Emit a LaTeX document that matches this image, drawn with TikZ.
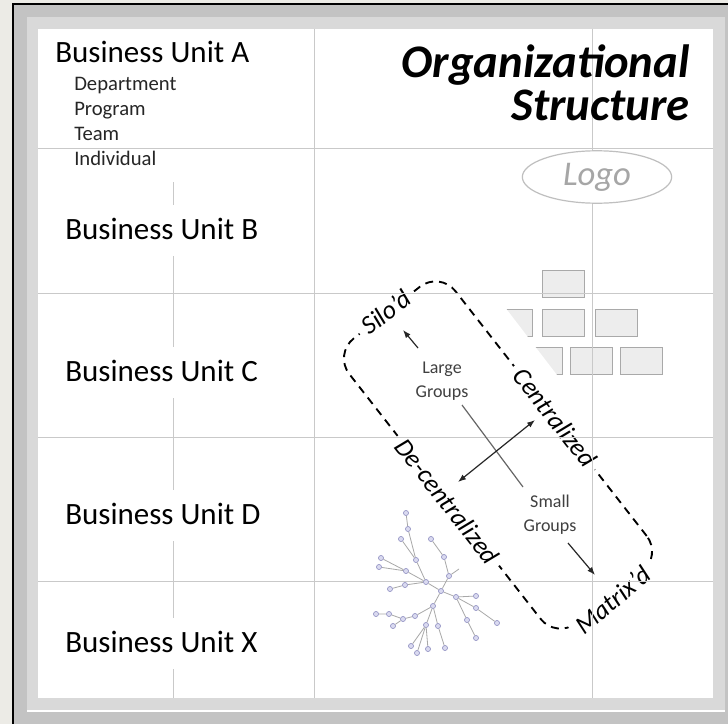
\documentclass[tikz,border=0pt]{standalone}
\usepackage{fontspec}
\setmainfont{Carlito}
\usepackage{tikz}
\usetikzlibrary{arrows.meta, positioning, calc, shapes.geometric}

\definecolor{pagebg}{HTML}{ECEBE6}
\definecolor{framegrey}{HTML}{C3C3C3}
\definecolor{panelgrey}{HTML}{D9D9D9}
\definecolor{gridgrey}{HTML}{C9C9C9}
\definecolor{blockfill}{HTML}{EDEDED}
\definecolor{blockline}{HTML}{A9A9A9}
\definecolor{logoline}{HTML}{BFBFBF}
\definecolor{logotext}{HTML}{A6A6A6}
\definecolor{twiggrey}{HTML}{A8A8A8}
\definecolor{leafline}{HTML}{9494C4}
\definecolor{leaffill}{HTML}{DADAF0}
\definecolor{groupstext}{HTML}{404040}

\begin{document}
\begin{tikzpicture}[
  x=0.75pt, y=-0.75pt,
  gridline/.style={draw=gridgrey, line width=0.75pt},
  unit/.style={anchor=base west, inner xsep=0pt, inner ysep=7.5pt, text height=18pt, text depth=5pt, fill=white, font=\fontsize{23.25}{28}\selectfont},
  item/.style={anchor=base west, inner sep=0pt, text=black!85, font=\fontsize{15.5}{18}\selectfont},
  heading/.style={anchor=base east, inner sep=0pt, font=\fontsize{35}{40}\selectfont\bfseries\itshape},
  block/.style={draw=blockline, fill=blockfill, line width=0.75pt},
  leaf/.style={circle, draw=leafline, fill=leaffill, line width=0.5pt, inner sep=0pt, minimum size=3.8pt},
  twig/.style={draw=twiggrey, line width=0.6pt},
  edgelbl/.style={fill=white, inner xsep=5pt, inner ysep=1pt, font=\fontsize{19.5}{23}\selectfont\itshape},
  groups/.style={align=center, text=groupstext, inner sep=0pt, font=\fontsize{13.5}{18}\selectfont},
  line/.style={draw=black!85, line width=0.9pt, -{Latex[length=6pt, width=4.5pt]}}
]
\useasboundingbox (0,0) rectangle (728,724);

% Frame and white sheet
\fill[pagebg] (0,0) rectangle (728,724);
\fill[framegrey] (13,4) rectangle (728,724);
\draw[black, line width=1.2pt] (13,724) -- (13,4) -- (728,4);
\fill[panelgrey] (27,17) rectangle (725,710);
\draw[white, line width=1.2pt] (27,711) -- (725,711);
\fill[white] (38,29) rectangle (713,698);

% Grey blocks, partly hidden behind the centralized side
\draw[block] (542,270) rectangle +(42,27);
\draw[block] (490,309) rectangle +(42,27);
\draw[block] (542,309) rectangle +(42,27);
\draw[block] (595,309) rectangle +(42,27);
\draw[block] (520,347) rectangle +(42,27);
\draw[block] (570,347) rectangle +(42,27);
\draw[block] (620,347) rectangle +(42,27);
\fill[white] (478,272) -- (580,405) -- (554,424) -- (454,291) -- cycle;

% Dashed loop with its four sides
\node (loop) [draw, dashed, dash pattern=on 6pt off 4.5pt, line width=1.4pt, rounded corners=19pt,
  minimum width=271pt, minimum height=101pt, rotate=-52] at (498,455) {};
\node (silo) [edgelbl, rotate=38] at (loop.west) {Silo'd};
\node (cent) [edgelbl, rotate=-52] at ($(loop.north)!0.03!(loop.north east)$) {Centralized};
\node (decent) [edgelbl, rotate=-52] at ($(loop.south)!0.03!(loop.south east)$) {De-centralized};
\node (matrix) [edgelbl, rotate=40] at ($(loop.east)+(3,2)$) {Matrix'd};

% Grid
\draw[gridline] (38,148) -- (713,148);
\draw[gridline] (38,293) -- (713,293);
\draw[gridline] (38,437) -- (713,437);
\draw[gridline] (38,581) -- (713,581);
\draw[gridline] (314,29) -- (314,698);
\draw[gridline] (592,29) -- (592,698);
\draw[gridline] (173,182) -- (173,698);

% Business units
\node (unitA) [anchor=base west, inner sep=0pt, font=\fontsize{23.25}{28}\selectfont] at (55,63) {Business Unit A};
\node (dept)  [item] at (74,90)  {Department};
\node (prog)  [item] at (74,115) {Program};
\node (team)  [item] at (74,140) {Team};
\node (indiv) [item] at (74,165) {Individual};
\node (unitB) [unit] at (65,239) {Business Unit B};
\node (unitC) [unit] at (65,381) {Business Unit C};
\node (unitD) [unit] at (65,524) {Business Unit D};
\node (unitX) [unit] at (65,652) {Business Unit X};

% Title and logo
\node (title1) [heading] at (690,78)  {Organizational};
\node (title2) [heading] at (690,120) {Structure};
\node (logo) [ellipse, draw=logoline, fill=white, line width=0.9pt, minimum width=112pt, minimum height=37pt,
  text=logotext, font=\fontsize{26}{30}\selectfont\itshape] at (597,177) {Logo};

% Network of small groups
\node (a1) [leaf] at (406,513) {}; \node (a2) [leaf] at (408,529) {}; \node (a3) [leaf] at (416,560) {};
\node (b1) [leaf] at (401,539) {};
\node (c1) [leaf] at (381,558) {}; \node (c2) [leaf] at (379,567) {}; \node (c3) [leaf] at (406,571) {};
\node (d1) [leaf] at (390,589) {}; \node (d2) [leaf] at (405,585) {};
\node (hA) [leaf] at (426,582) {}; \node (hB) [leaf] at (441,591) {};
\node (e1) [leaf] at (431,539) {}; \node (e2) [leaf] at (444,557) {}; \node (e3) [leaf] at (449,576) {};
\node (f1) [leaf] at (456,597) {}; \node (f2) [leaf] at (476,596) {};
\node (f3) [leaf] at (476,608) {}; \node (f4) [leaf] at (497,623) {};
\node (g1) [leaf] at (467,620) {}; \node (g2) [leaf] at (476,638) {};
\node (h1) [leaf] at (433,606) {}; \node (h2) [leaf] at (415,616) {}; \node (h3) [leaf] at (403,619) {};
\node (h4) [leaf] at (389,614) {}; \node (h5) [leaf] at (376,614) {}; \node (h6) [leaf] at (393,626) {};
\node (i1) [leaf] at (426,625) {}; \node (i2) [leaf] at (411,646) {};
\node (i3) [leaf] at (417,653) {}; \node (i4) [leaf] at (428,649) {};
\node (j1) [leaf] at (438,626) {}; \node (j2) [leaf] at (445,648) {};
\coordinate (e3stub) at (459,569);
\draw[twig] (a1) -- (a2) -- (a3) -- (hA);
\draw[twig] (b1) -- (a3);
\draw[twig] (c1) -- (c3) -- (hA);
\draw[twig] (c2) -- (c3);
\draw[twig] (d1) -- (d2) -- (hA);
\draw[twig] (hA) -- (hB);
\draw[twig] (e1) -- (e2) -- (e3) -- (hB);
\draw[twig] (e3) -- (e3stub);
\draw[twig] (hB) -- (f1) -- (f2);
\draw[twig] (f1) -- (f3) -- (f4);
\draw[twig] (f1) -- (g1) -- (g2);
\draw[twig] (hB) -- (h1) -- (h2) -- (h3) -- (h4) -- (h5);
\draw[twig] (h3) -- (h6);
\draw[twig] (h1) -- (i1) -- (i2);
\draw[twig] (i1) -- (i3);
\draw[twig] (i1) -- (i4);
\draw[twig] (h1) -- (j1) -- (j2);

% Group sizes and arrows
\node (large) [groups] at (442,381) {Large\\Groups};
\node (small) [groups] at (550,515) {Small\\Groups};
\coordinate (siloTail) at (418,348);
\coordinate (siloTip) at (403,330);
\coordinate (matrixTail) at (568,543);
\coordinate (matrixTip) at (595,575);
\coordinate (sizeTop) at (462,405);
\coordinate (sizeBottom) at (523,487);
\coordinate (decTip) at (458,482);
\coordinate (centTip) at (535,420);
\draw[line] (siloTail) -- (siloTip);
\draw[line] (matrixTail) -- (matrixTip);
\draw[draw=black!60, line width=0.9pt] (sizeTop) -- (sizeBottom);
\draw[line, {Latex[length=6pt, width=4.5pt]}-{Latex[length=6pt, width=4.5pt]}] (decTip) -- (centTip);

\end{tikzpicture}
\end{document}
